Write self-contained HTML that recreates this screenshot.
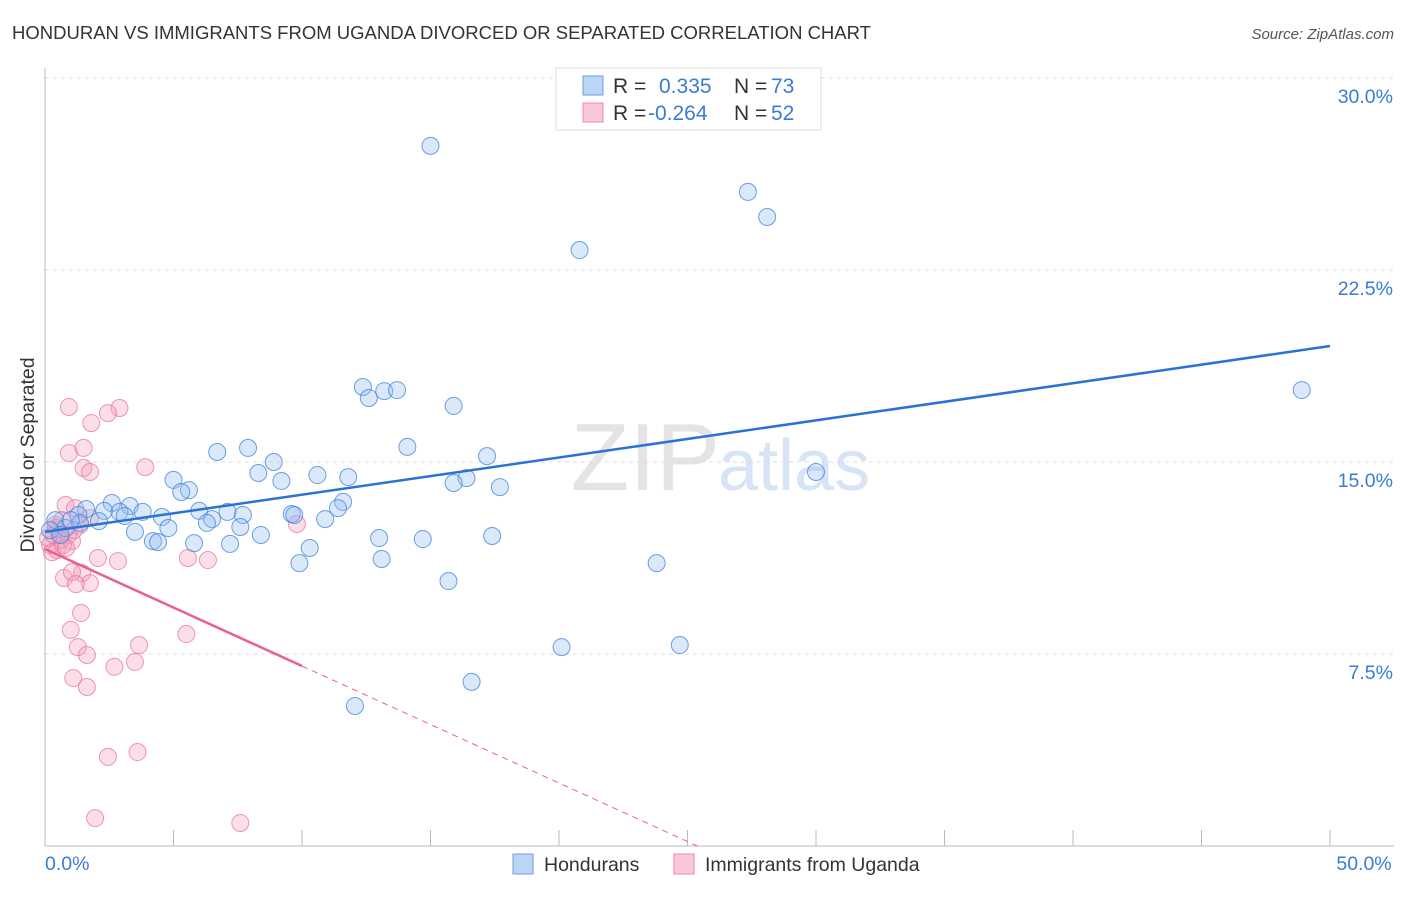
<!DOCTYPE html>
<html><head><meta charset="utf-8"><style>
body{margin:0;background:#fff;font-family:"Liberation Sans",sans-serif;}
svg text{font-family:"Liberation Sans",sans-serif;}
</style></head><body>
<svg id="c" width="1406" height="892">
<text x="12" y="39" font-size="18.5" fill="#333">HONDURAN VS IMMIGRANTS FROM UGANDA DIVORCED OR SEPARATED CORRELATION CHART</text>
<text x="1394" y="39" font-size="15" fill="#555" text-anchor="end" font-style="italic">Source: ZipAtlas.com</text>
<text x="720" y="490" font-size="96" fill="#e4e4e4" text-anchor="end" font-family="Liberation Serif">ZIP</text>
<text x="718" y="490" font-size="72" fill="#d6e4f5">atlas</text>
<g id="grid"></g><g id="axes"></g><g id="pts"></g><g id="lines"></g>
<text transform="translate(34,455) rotate(-90)" font-size="19.5" fill="#333" text-anchor="middle">Divorced or Separated</text>
<g>
<rect x="556" y="68" width="265" height="62" fill="#fff" stroke="#ddd"/>
<rect x="583" y="76" width="20" height="19" fill="#bcd5f5" stroke="#6a9ee0"/>
<rect x="583" y="103" width="20" height="19" fill="#f9c8d6" stroke="#ec8aa8"/>
<text x="613" y="93" font-size="21" fill="#333">R = </text><text x="659" y="93" font-size="21" fill="#3a7bd5">0.335</text>
<text x="734" y="93" font-size="21" fill="#333">N = </text><text x="771" y="93" font-size="21" fill="#3a7bd5">73</text>
<text x="613" y="120" font-size="21" fill="#333">R = </text><text x="648" y="120" font-size="21" fill="#3a7bd5">-0.264</text>
<text x="734" y="120" font-size="21" fill="#333">N = </text><text x="771" y="120" font-size="21" fill="#3a7bd5">52</text>
</g>
<g>
<rect x="513" y="854" width="20" height="20" fill="#bcd5f5" stroke="#6a9ee0"/>
<text x="544" y="871" font-size="19.5" fill="#333">Hondurans</text>
<rect x="674" y="854" width="20" height="20" fill="#f9c8d6" stroke="#ec8aa8"/>
<text x="705" y="871" font-size="19.5" fill="#333">Immigrants from Uganda</text>
</g>
</svg>
<script>
const yTicks=[7.5,15,22.5,30];
const yTickLabels=["7.5%","15.0%","22.5%","30.0%"];
const xTickLabels=["0.0%","50.0%"];
const blueX=[15.0,27.35,28.1,20.8,48.9,12.37,12.6,13.2,13.7,15.9,14.1,7.9,6.7,17.2,8.9,8.3,10.6,11.8,30.0,16.4,15.9,17.7,9.2,5.0,5.6,5.3,11.6,11.4,2.6,3.3,1.6,2.3,2.9,3.8,3.1,6.0,7.1,7.7,6.5,6.3,4.55,9.6,9.7,10.9,1.3,2.1,1.36,0.4,0.8,3.5,4.8,7.6,8.4,4.2,4.4,5.8,7.2,13.0,14.7,17.4,10.3,9.9,13.1,15.7,23.8,20.1,24.7,16.6,12.06,0.2,0.6,1.0];
const blueY=[27.35,25.55,24.57,23.28,17.81,17.93,17.5,17.77,17.81,17.19,15.59,15.55,15.39,15.23,15.0,14.57,14.49,14.41,14.61,14.37,14.18,14.02,14.26,14.3,13.9,13.83,13.44,13.2,13.4,13.28,13.16,13.09,13.05,13.05,12.89,13.09,13.05,12.93,12.77,12.62,12.85,12.97,12.93,12.77,12.93,12.69,12.62,12.73,12.42,12.27,12.42,12.46,12.15,11.91,11.87,11.83,11.8,12.03,11.99,12.11,11.64,11.05,11.21,10.35,11.05,7.77,7.85,6.41,5.47,12.34,12.15,12.73];
const pinkX=[0.93,2.9,2.45,1.8,0.93,1.5,1.5,1.75,3.9,0.8,1.17,1.36,0.4,0.6,0.2,1.05,9.8,0.5,0.9,0.27,2.06,2.84,5.56,6.34,0.74,1.44,1.05,1.75,1.2,1.4,1.0,5.5,3.66,1.28,1.63,3.5,2.7,1.1,1.63,2.45,3.6,1.95,7.6,0.47,0.66,1.75,0.12,0.35,0.7,1.13,0.82,0.43];
const pinkY=[17.15,17.11,16.91,16.52,15.35,15.55,14.77,14.61,14.8,13.32,13.2,12.54,12.54,11.95,11.76,11.91,12.58,12.34,12.15,11.48,11.25,11.13,11.25,11.17,10.47,10.66,10.7,10.27,10.23,9.1,8.44,8.28,7.85,7.77,7.46,7.19,7.0,6.56,6.21,3.48,3.67,1.09,0.9,11.56,12.73,12.81,12.03,12.15,11.76,12.34,11.64,12.42];
const blueTrend=[12.27,19.53];
const pinkTrend=[11.6,-0.457];
const pinkSolidEnd=10;
const NS="http://www.w3.org/2000/svg";
const X=v=>45+v/50*1285, Y=v=>846-v/30*768;
function mk(tag,attrs,parent){const e=document.createElementNS(NS,tag);for(const k in attrs)e.setAttribute(k,attrs[k]);document.getElementById(parent).appendChild(e);return e;}
yTicks.forEach((t,i)=>{
 const g=mk('line',{x1:45,x2:1394,y1:Y(t),y2:Y(t),stroke:'#ddd','stroke-dasharray':'4,4'},'grid');
 
 
 const l=mk('text',{x:1393,y:Y(t)+25,'font-size':19.5,fill:'#3a7bd5','text-anchor':'end'},'axes');
 l.textContent=yTickLabels[i];
 
 
});
const ax=mk('line',{x1:45,x2:45,y1:68,y2:846,stroke:'#bbb'},'axes');


const bx=mk('line',{x1:45,x2:1394,y1:846,y2:846,stroke:'#bbb'},'axes');


for(let v=5;v<=50;v+=5){const t=mk('line',{x1:X(v),x2:X(v),y1:830,y2:846,stroke:'#bbb'},'axes');
 
 }
[[0,'start',45],[50,'middle',X(50)+34]].forEach((d,i)=>{const t=mk('text',{x:d[2],y:870,'font-size':19.5,fill:'#3a7bd5','text-anchor':d[1]},'axes');t.textContent=xTickLabels[i];
 
 });
pinkX.forEach((x,i)=>{const c=mk('circle',{cx:X(x),cy:Y(pinkY[i]),r:8.5,fill:'rgba(244,160,190,0.35)',stroke:'rgba(232,110,150,0.7)','stroke-width':1},'pts');
 
 });
blueX.forEach((x,i)=>{const c=mk('circle',{cx:X(x),cy:Y(blueY[i]),r:8.5,fill:'rgba(150,190,240,0.35)',stroke:'rgba(60,130,220,0.75)','stroke-width':1},'pts');
 
 });
const bl=mk('line',{x1:X(0),y1:Y(blueTrend[0]),x2:X(50),y2:Y(blueTrend[1]),stroke:'#2a72d5','stroke-width':2.5},'lines');


const pl=mk('line',{x1:X(0),y1:Y(pinkTrend[0]),x2:X(pinkSolidEnd),y2:Y(pinkTrend[0]+pinkTrend[1]*pinkSolidEnd),stroke:'#e8608e','stroke-width':2.5},'lines');


const xe=-pinkTrend[0]/pinkTrend[1];
const pd=mk('line',{x1:X(pinkSolidEnd),y1:Y(pinkTrend[0]+pinkTrend[1]*pinkSolidEnd),x2:X(xe),y2:Y(0),stroke:'#e8608e','stroke-width':1,'stroke-dasharray':'6,5'},'lines');


</script>
</body></html>
